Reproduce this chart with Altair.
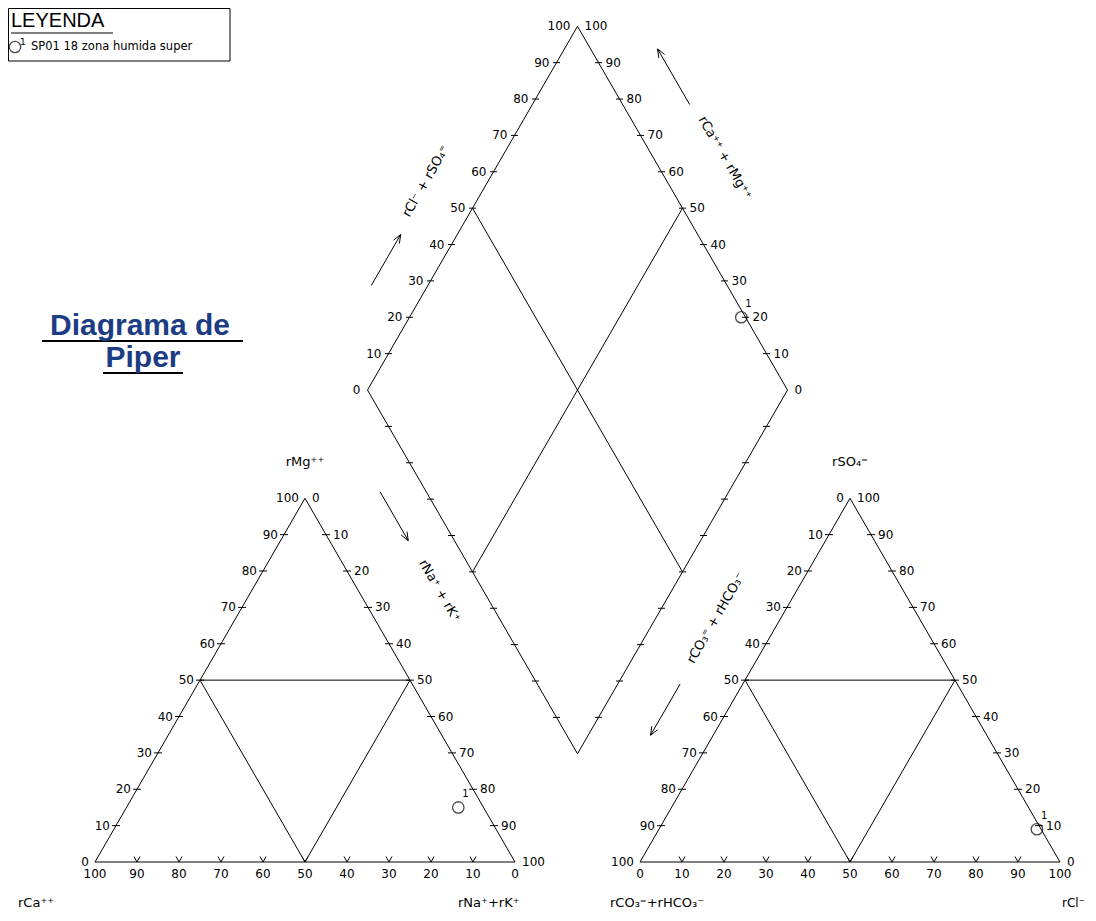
import math
import altair as alt
import pandas as pd

# ---------------- data (percent of meq/L) ----------------
sample_ids = ["1"]
sample_names = ["SP01"]
ca_pct = [6.0]
mg_pct = [15.0]
nak_pct = [79.0]
hco3_pct = [1.0]
so4_pct = [9.0]
cl_pct = [90.0]

tick_values = [0, 10, 20, 30, 40, 50, 60, 70, 80, 90, 100]

title_lines = ["Diagrama de", "Piper"]
legend_heading = "LEYENDA"
legend_entry = "SP01  18  zona  humida  super"

lbl_mg = "rMg⁺⁺"
lbl_ca = "rCa⁺⁺"
lbl_nak = "rNa⁺+rK⁺"
lbl_so4 = "rSO₄⁼"
lbl_hco3 = "rCO₃⁼+rHCO₃⁻"
lbl_cl = "rCl⁻"
lbl_d_tl = "rCl⁻ + rSO₄⁼"
lbl_d_tr = "rCa⁺⁺ + rMg⁺⁺"
lbl_d_bl = "rNa⁺ + rK⁺"
lbl_d_br = "rCO₃⁼ + rHCO₃⁻"

# ---------------- geometry (triangle side = 1) ----------------
H = math.sqrt(3) / 2
PX = 1 / 420.0          # one pixel in data units
GAP = 125 * PX
OX = 1 + GAP
DB = (1 + GAP / 2, GAP * H)
DL = (0.5 + GAP / 2, GAP * H + H)
DR = (1.5 + GAP / 2, GAP * H + H)
DT = (1 + GAP / 2, GAP * H + 2 * H)


def page(px, py):
    return ((px - 95) * PX, (862 - py) * PX)


def add(p, dx_px=0.0, dy_px=0.0):
    return (p[0] + dx_px * PX, p[1] - dy_px * PX)


def lerp(a, b, t):
    return (a[0] + (b[0] - a[0]) * t, a[1] + (b[1] - a[1]) * t)


rules = []


def seg(a, b, w=1.0):
    rules.append(dict(x=a[0], y=a[1], x2=b[0], y2=b[1], w=w))


texts = []


def txt(p, s, align="center", size=12, angle=0, dx=0, dy=0):
    q = add(p, dx, dy)
    texts.append(dict(x=q[0], y=q[1], t=s, align=align, size=size, angle=angle))


# ----- left (cation) triangle -----
L_BL, L_BR, L_AP = (0, 0), (1, 0), (0.5, H)
seg(L_BL, L_BR); seg(L_BR, L_AP); seg(L_AP, L_BL)
seg((0.25, H / 2), (0.75, H / 2)); seg((0.25, H / 2), (0.5, 0)); seg((0.75, H / 2), (0.5, 0))

# ----- right (anion) triangle -----
R_BL, R_BR, R_AP = (OX, 0), (OX + 1, 0), (OX + 0.5, H)
seg(R_BL, R_BR); seg(R_BR, R_AP); seg(R_AP, R_BL)
seg((OX + 0.25, H / 2), (OX + 0.75, H / 2)); seg((OX + 0.25, H / 2), (OX + 0.5, 0)); seg((OX + 0.75, H / 2), (OX + 0.5, 0))

# ----- diamond -----
seg(DB, DR); seg(DR, DT); seg(DT, DL); seg(DL, DB)
seg(lerp(DL, DT, 0.5), lerp(DB, DR, 0.5))
seg(lerp(DT, DR, 0.5), lerp(DL, DB, 0.5))

# ----- ticks & tick labels -----
for v in tick_values:
    f = v / 100.0
    inner = 0 < v < 100
    pl = (f / 2, f * H)                    # Mg (left edge)
    pr = (0.5 + f / 2, (1 - f) * H)        # Na+K (right edge)
    pb = (1 - f, 0)                        # Ca (bottom)
    ql = (OX + (1 - f) / 2, (1 - f) * H)   # CO3+HCO3 (left edge)
    qr = (OX + (1 - f) + f / 2, f * H)     # SO4 (right edge)
    qb = (OX + f, 0)                       # Cl (bottom)
    if inner:
        for p in (pl, pr, ql, qr):
            seg(add(p, -4), add(p, 4))
        for p in (pb, qb):
            seg(p, add(p, -3, -5.5)); seg(p, add(p, 3, -5.5))
    txt(pl, str(v), "right", dx=-6)
    txt(pr, str(v), "left", dx=7)
    txt(pb, str(v), "center", dy=12)
    txt(ql, str(v), "right", dx=-6)
    txt(qr, str(v), "left", dx=7)
    txt(qb, str(v), "center", dy=12)
    d_tl = lerp(DL, DT, f)
    d_tr = lerp(DR, DT, f)
    txt(d_tl, str(v), "right", dx=-7)
    txt(d_tr, str(v), "left", dx=7)
    if inner:
        for p in (d_tl, d_tr, lerp(DL, DB, f), lerp(DR, DB, f)):
            seg(add(p, -3.5), add(p, 3.5))

# ----- diamond arrows and rotated titles -----
def edge_pt(a, b, t, n, off):
    p = lerp(a, b, t)
    return (p[0] + n[0] * off * PX, p[1] + n[1] * off * PX)


def arrow(tail, tip, head=9, ang=22):
    seg(tail, tip)
    dx, dy = tip[0] - tail[0], tip[1] - tail[1]
    ln = math.hypot(dx, dy)
    ux, uy = dx / ln, dy / ln
    for s in (1, -1):
        a = math.radians(ang * s)
        rx = ux * math.cos(a) - uy * math.sin(a)
        ry = ux * math.sin(a) + uy * math.cos(a)
        seg(tip, (tip[0] - rx * head * PX, tip[1] - ry * head * PX))


N_TL = (-H, 0.5); N_TR = (H, 0.5); N_BL = (-H, -0.5); N_BR = (H, -0.5)
arrow(edge_pt(DL, DT, 0.22, N_TL, 49), edge_pt(DL, DT, 0.36, N_TL, 49))
arrow(edge_pt(DT, DR, 0.295, N_TR, 58), edge_pt(DT, DR, 0.142, N_TR, 58))
arrow(edge_pt(DL, DB, 0.225, N_BL, 40), edge_pt(DL, DB, 0.359, N_BL, 40))
arrow(edge_pt(DR, DB, 0.734, N_BR, 54), edge_pt(DR, DB, 0.875, N_BR, 54))

txt(edge_pt(DL, DT, 0.5, N_TL, 54), lbl_d_tl, "center", 13, 300)
txt(edge_pt(DT, DR, 0.447, N_TR, 62), lbl_d_tr, "center", 13, 60)
txt(edge_pt(DL, DB, 0.5, N_BL, 38), lbl_d_bl, "center", 13, 60)
txt(edge_pt(DR, DB, 0.555, N_BR, 52), lbl_d_br, "center", 13, 300)

# ----- triangle axis titles -----
txt(L_AP, lbl_mg, "center", 13, dy=-36)
txt(R_AP, lbl_so4, "center", 13, dy=-36)
txt(L_BL, lbl_ca, "left", 13, dx=-77, dy=41)
txt(L_BR, lbl_nak, "left", 13, dx=-57, dy=41)
txt(R_BL, lbl_hco3, "left", 13, dx=-30, dy=41)
txt(R_BR, lbl_cl, "left", 12, dx=2, dy=41)

# ----- samples -----
pts = []
for i in range(len(sample_ids)):
    tot_c = ca_pct[i] + mg_pct[i] + nak_pct[i]
    tot_a = hco3_pct[i] + so4_pct[i] + cl_pct[i]
    na, mg = nak_pct[i] / tot_c, mg_pct[i] / tot_c
    cl, so = cl_pct[i] / tot_a, so4_pct[i] / tot_a
    c_pt = (na + mg / 2, mg * H)
    a_pt = (OX + cl + so / 2, so * H)
    S = cl + so
    C = (ca_pct[i] + mg_pct[i]) / tot_c
    d_pt = (DB[0] + 0.5 * (S - C), DB[1] + H * (S + C))
    for p in (c_pt, a_pt, d_pt):
        pts.append(dict(x=p[0], y=p[1], name=sample_names[i]))
        txt(p, sample_ids[i], "left", 10, dx=4, dy=-13)

# ----- legend box (top-left) -----
b0, b1 = page(8.5, 8.5), page(230, 61)
seg(b0, (b1[0], b0[1])); seg((b1[0], b0[1]), b1); seg(b1, (b0[0], b1[1])); seg((b0[0], b1[1]), b0)
seg(page(11, 33), page(113, 33))
legend_sym = page(15, 47)
txt(page(20, 42), sample_ids[0], "left", 9)
txt(page(31, 47), legend_entry, "left", 11.5)

# title underlines
seg(page(42, 341), page(243, 341), 1.8)
seg(page(103, 373), page(183, 373), 1.8)

rules_df = pd.DataFrame(rules)
texts_df = pd.DataFrame(texts)
pts_df = pd.DataFrame(pts + [dict(x=legend_sym[0], y=legend_sym[1], name="legend")])

title_df = pd.DataFrame([
    dict(x=page(140, 326)[0], y=page(140, 326)[1], t=title_lines[0]),
    dict(x=page(143, 358)[0], y=page(143, 358)[1], t=title_lines[1]),
])
head_df = pd.DataFrame([dict(x=page(11, 21)[0], y=page(11, 21)[1], t=legend_heading)])

xs = alt.Scale(domain=[page(8, 0)[0], page(1088, 0)[0]], nice=False, zero=False)
ys = alt.Scale(domain=[page(0, 913)[1], page(0, 8)[1]], nice=False, zero=False)
X = alt.X("x:Q", scale=xs, axis=None)
Y = alt.Y("y:Q", scale=ys, axis=None)

FONT = "DejaVu Sans"

rule_layer = alt.Chart(rules_df).mark_rule(color="black").encode(
    x=X, y=Y, x2="x2:Q", y2="y2:Q", strokeWidth=alt.StrokeWidth("w:Q", scale=None)
)

text_layers = []
for al in ("left", "center", "right"):
    sub = texts_df[texts_df["align"] == al]
    text_layers.append(
        alt.Chart(sub).mark_text(align=al, baseline="middle", font=FONT, color="black").encode(
            x=X, y=Y, text="t:N",
            size=alt.Size("size:Q", scale=None),
            angle=alt.Angle("angle:Q", scale=None),
        )
    )

pt_layer = alt.Chart(pts_df).mark_point(shape="circle", filled=False, size=130, color="black", strokeWidth=1.3).encode(x=X, y=Y)

title_layer = alt.Chart(title_df).mark_text(
    align="center", baseline="middle", font="Liberation Sans", fontSize=30, fontWeight="bold", color="#1c3c84"
).encode(x=X, y=Y, text="t:N")

head_layer = alt.Chart(head_df).mark_text(
    align="left", baseline="middle", font="Liberation Sans", fontSize=20, color="black"
).encode(x=X, y=Y, text="t:N")

chart = alt.layer(rule_layer, *text_layers, pt_layer, title_layer, head_layer).properties(
    width=1080, height=905, padding=0, autosize=alt.AutoSizeParams(type="none")
).configure_view(stroke=None)

chart.save("out.html", embed_options={"renderer": "svg", "actions": False})
